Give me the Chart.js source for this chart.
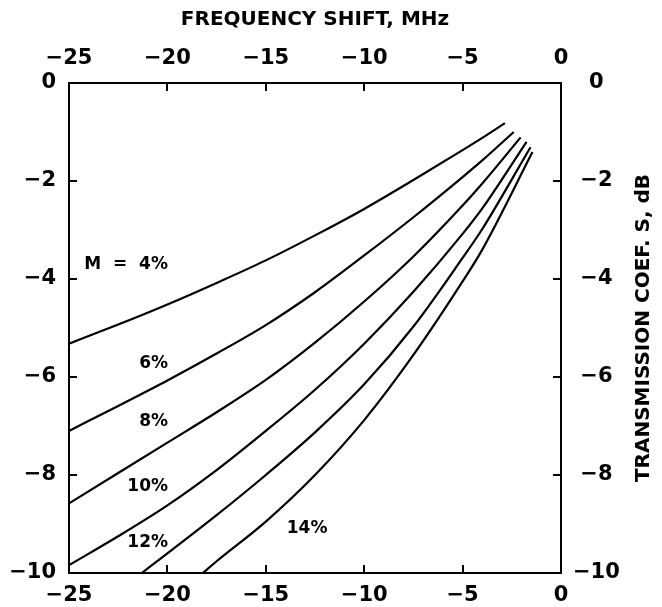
<!DOCTYPE html>
<html>
<head>
<meta charset="utf-8">
<script src="https://cdn.jsdelivr.net/npm/chart.js@4.4.0/dist/chart.umd.min.js"></script>
<style>
html, body { margin: 0; padding: 0; background: #fff; }
#wrap { width: 662px; height: 607px; }
</style>
</head>
<body>
<div id="wrap"><canvas id="chart"></canvas></div>
<script>
// frequency shift (MHz) and transmission coefficient (dB) for each M
const shift4 = [-25, -22.5, -20, -17.5, -15, -12.5, -10, -7.5, -5, -4, -2.85];
const coef4 = [-5.32, -4.93, -4.52, -4.08, -3.62, -3.11, -2.57, -1.98, -1.37, -1.12, -0.82];
const shift6 = [-25, -22.5, -20, -17.5, -15, -12.5, -10, -7.5, -5, -4, -2.4];
const coef6 = [-7.10, -6.59, -6.07, -5.52, -4.94, -4.27, -3.52, -2.74, -1.92, -1.58, -1.00];
const shift8 = [-25, -22.5, -20, -17.5, -15, -12.5, -10, -7.5, -5, -4, -2.05];
const coef8 = [-8.58, -7.96, -7.34, -6.72, -6.06, -5.30, -4.46, -3.54, -2.50, -2.05, -1.11];
const shift10 = [-25, -22.5, -20, -17.5, -15, -12.5, -10, -7.5, -5, -4, -1.75];
const coef10 = [-9.84, -9.25, -8.62, -7.90, -7.10, -6.26, -5.32, -4.26, -3.08, -2.56, -1.20];
const shift12 = [-21.3, -20, -17.5, -15, -12.5, -10, -7.5, -5, -4, -1.55];
const coef12 = [-10, -9.60, -8.82, -8.00, -7.13, -6.15, -4.97, -3.57, -2.98, -1.31];
const shift14 = [-18.2, -17.5, -15, -12.5, -10, -7.5, -5, -4, -1.45];
const coef14 = [-10, -9.76, -8.95, -8.00, -6.88, -5.55, -4.05, -3.40, -1.41];

const xTicks = [-25, -20, -15, -10, -5, 0];
const yTicks = [0, -2, -4, -6, -8, -10];

// curve labels, placed in data coordinates
const noteText = ['M  =  4%', '6%', '8%', '10%', '12%', '14%'];
const noteShift = [-22.1, -20.7, -20.7, -21.0, -21.0, -12.9];
const noteCoef = [-3.70, -5.72, -6.90, -8.23, -9.37, -9.09];

const xTitle = 'FREQUENCY SHIFT, MHz';
const yTitle = 'TRANSMISSION COEF. S, dB';

const FONT = '"DejaVu Sans", sans-serif';

function pts(xs, ys) {
    return xs.map((v, i) => ({ x: v, y: ys[i] }));
}

function fmt(v) {
    return v === 0 ? '0' : '\u2212' + Math.abs(v);
}

const series = [[shift4, coef4], [shift6, coef6], [shift8, coef8], [shift10, coef10], [shift12, coef12], [shift14, coef14]];

const datasets = series.map(s => ({
    data: pts(s[0], s[1]),
    showLine: true,
    borderColor: '#000',
    borderWidth: 2.2,
    pointRadius: 0,
    fill: false,
    cubicInterpolationMode: 'monotone'
}));

const curveNotes = {
    id: 'curveNotes',
    afterDatasetsDraw(chart) {
        const { ctx, scales: { x, y }, chartArea } = chart;
        ctx.save();
        ctx.fillStyle = '#000';
        ctx.textAlign = 'center';
        ctx.textBaseline = 'middle';
        ctx.font = 'bold 17px ' + FONT;
        noteText.forEach((t, i) => {
            ctx.fillText(t, x.getPixelForValue(noteShift[i]), y.getPixelForValue(noteCoef[i]));
        });
        // right-hand axis title, reading bottom to top
        const r = chart.scales.y2;
        ctx.translate(r.right - 18, (chartArea.top + chartArea.bottom) / 2);
        ctx.rotate(-Math.PI / 2);
        ctx.font = 'bold 20px ' + FONT;
        ctx.fillText(yTitle, 0, 0);
        ctx.restore();
    }
};

function axis(position, min, max, size, pad, extra) {
    const vertical = position === 'left' || position === 'right';
    return Object.assign({
        type: 'linear',
        position: position,
        min: min,
        max: max,
        afterFit: s => {
            if (vertical) s.width = size;
            else s.height = size;
        },
        afterBuildTicks: s => {
            s.ticks = (vertical ? yTicks : xTicks).map(v => ({ value: v }));
        },
        border: { display: true, color: '#000', width: 2 },
        grid: { drawOnChartArea: false, drawTicks: true, tickLength: -8, color: '#000', lineWidth: 2 },
        ticks: {
            padding: pad,
            color: '#000',
            font: { family: FONT, size: 21, weight: 'bold' },
            callback: fmt,
            maxRotation: 0,
            autoSkip: false
        }
    }, extra || {});
}

const x2 = axis('top', -25, 0, 83, 20, {
    title: {
        display: true,
        text: xTitle,
        color: '#000',
        font: { family: FONT, size: 20, weight: 'bold' },
        padding: { top: 8, bottom: 0 }
    }
});
const y2 = axis('right', -10, 0, 101, 20);
y2.ticks.crossAlign = 'center';

new Chart(document.getElementById('chart'), {
    type: 'scatter',
    data: { datasets: datasets },
    options: {
        responsive: true,
        maintainAspectRatio: false,
        animation: false,
        layout: { padding: 0 },
        plugins: {
            legend: { display: false },
            tooltip: { enabled: false }
        },
        scales: {
            x: axis('bottom', -25, 0, 34, 18),
            x2: x2,
            y: axis('left', -10, 0, 69, 21),
            y2: y2
        }
    },
    plugins: [curveNotes]
});
</script>
</body>
</html>
